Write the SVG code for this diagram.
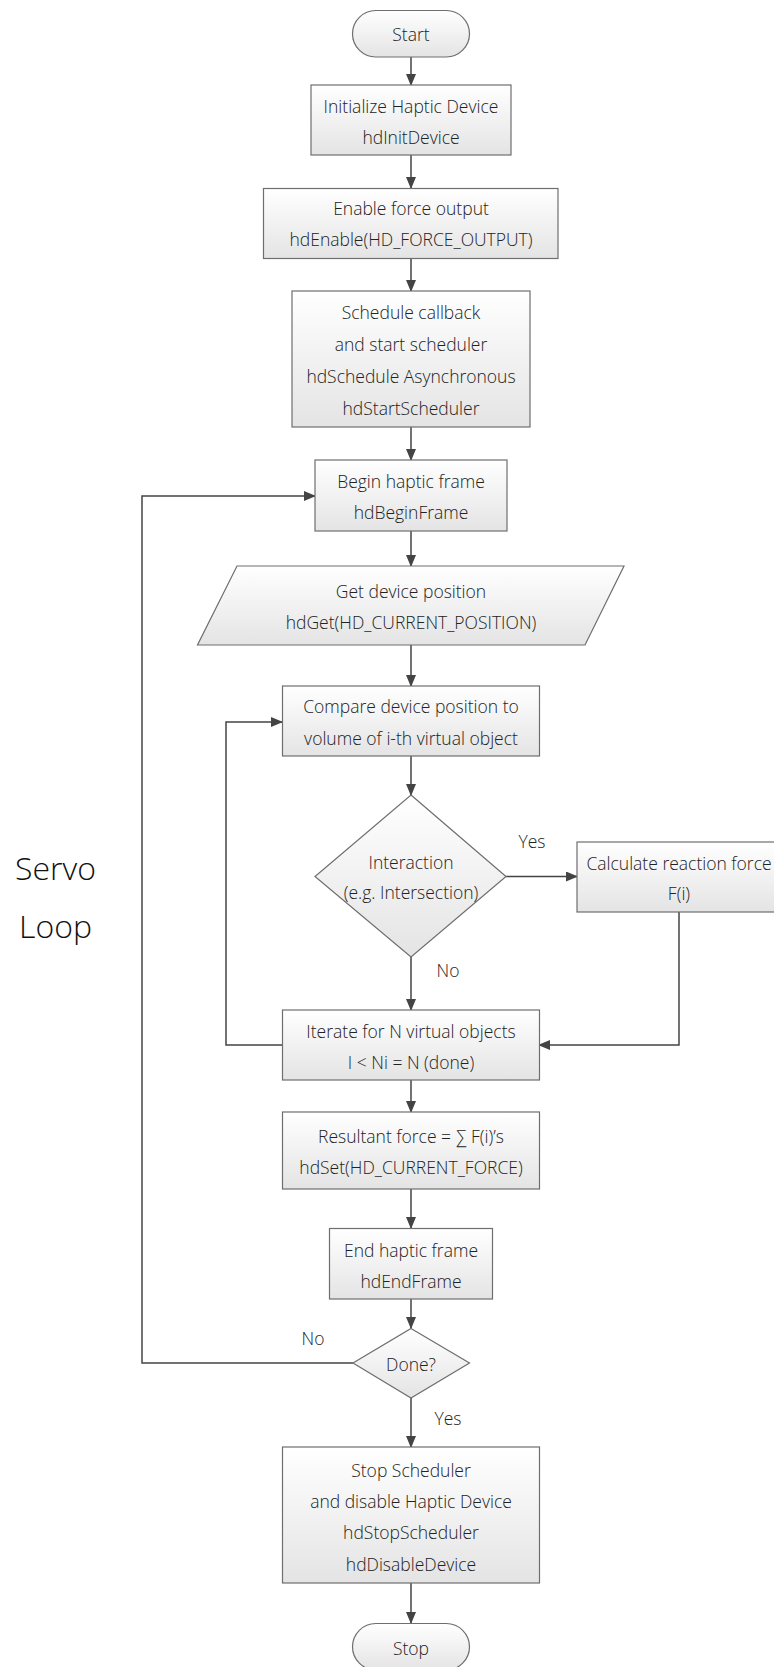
<svg xmlns="http://www.w3.org/2000/svg" width="774" height="1667" viewBox="0 0 774 1667">
<defs>
<linearGradient id="g" x1="0" y1="0" x2="0" y2="1">
<stop offset="0" stop-color="#ffffff"/>
<stop offset="1" stop-color="#e4e4e4"/>
</linearGradient>
<marker id="a" markerWidth="12" markerHeight="10" refX="11" refY="5" orient="auto" markerUnits="userSpaceOnUse">
<path d="M0,0 L12,5 L0,10 Z" fill="#444"/>
</marker>
<style>
.n{fill:url(#g);stroke:#6e6e6e;stroke-width:1.2}
.t{font-family:"Open Sans","Noto Sans",sans-serif;font-size:17.5px;font-weight:300;fill:#222;text-anchor:middle}
.s{font-family:"Open Sans","Noto Sans",sans-serif;font-size:32px;font-weight:300;fill:#111}
.c{fill:none;stroke:#444;stroke-width:1.5}
.ca{fill:none;stroke:#444;stroke-width:1.5;marker-end:url(#a)}
</style>
</defs>
<rect width="774" height="1667" fill="#fff"/>
<g id="servo-label">
<text class="s" x="15" y="880">Servo</text>
<text class="s" x="19" y="938">Loop</text>
</g>
<g id="connectors">
<line class="ca" x1="411" y1="57" x2="411" y2="85"/>
<line class="ca" x1="411" y1="155" x2="411" y2="188"/>
<line class="ca" x1="411" y1="258" x2="411" y2="291"/>
<line class="ca" x1="411" y1="427" x2="411" y2="460"/>
<line class="ca" x1="411" y1="531" x2="411" y2="566"/>
<line class="ca" x1="411" y1="645" x2="411" y2="686"/>
<line class="ca" x1="411" y1="756" x2="411" y2="795"/>
<line class="ca" x1="506" y1="876.5" x2="577" y2="876.5"/>
<line class="ca" x1="411" y1="957" x2="411" y2="1010"/>
<polyline class="ca" points="679,912 679,1045 539,1045"/>
<polyline class="ca" points="282,1045 226,1045 226,722 282,722"/>
<line class="ca" x1="411" y1="1080" x2="411" y2="1112"/>
<line class="ca" x1="411" y1="1189" x2="411" y2="1228"/>
<line class="ca" x1="411" y1="1299" x2="411" y2="1328"/>
<polyline class="ca" points="353,1363 142,1363 142,496 315,496"/>
<line class="ca" x1="411" y1="1398" x2="411" y2="1447"/>
<line class="ca" x1="411" y1="1583" x2="411" y2="1623"/>
<text class="t" x="532" y="848">Yes</text>
<text class="t" x="448" y="977">No</text>
<text class="t" x="313" y="1345">No</text>
<text class="t" x="448" y="1425">Yes</text>
</g>
<g id="start">
<rect class="n" x="352.5" y="10.5" width="117" height="46.5" rx="23.25"/>
<text class="t" x="411" y="41">Start</text>
</g>
<g id="init">
<rect class="n" x="311" y="85" width="200" height="70"/>
<text class="t" x="411" y="113">Initialize Haptic Device</text>
<text class="t" x="411" y="144">hdInitDevice</text>
</g>
<g id="enable">
<rect class="n" x="263.5" y="188.5" width="294.5" height="70"/>
<text class="t" x="411" y="215">Enable force output</text>
<text class="t" x="411" y="246">hdEnable(HD_FORCE_OUTPUT)</text>
</g>
<g id="schedule">
<rect class="n" x="292" y="291" width="238" height="136"/>
<text class="t" x="411" y="319">Schedule callback</text>
<text class="t" x="411" y="351">and start scheduler</text>
<text class="t" x="411" y="383">hdSchedule Asynchronous</text>
<text class="t" x="411" y="415">hdStartScheduler</text>
</g>
<g id="begin">
<rect class="n" x="315" y="460" width="192" height="71"/>
<text class="t" x="411" y="488">Begin haptic frame</text>
<text class="t" x="411" y="519">hdBeginFrame</text>
</g>
<g id="getpos">
<polygon class="n" points="237,566 624,566 585,645 197.5,645"/>
<text class="t" x="411" y="598">Get device position</text>
<text class="t" x="411" y="629">hdGet(HD_CURRENT_POSITION)</text>
</g>
<g id="compare">
<rect class="n" x="282.5" y="686" width="257" height="70"/>
<text class="t" x="411" y="713">Compare device position to</text>
<text class="t" x="411" y="745">volume of i-th virtual object</text>
</g>
<g id="interaction">
<polygon class="n" points="411,795 506,876.5 411,957 315,876.5"/>
<text class="t" x="411" y="869">Interaction</text>
<text class="t" x="411" y="899">(e.g. Intersection)</text>
</g>
<g id="calc">
<rect class="n" x="577" y="842" width="203" height="70"/>
<text class="t" x="679" y="870">Calculate reaction force</text>
<text class="t" x="679" y="900">F(i)</text>
</g>
<g id="iterate">
<rect class="n" x="282.5" y="1010" width="257" height="70"/>
<text class="t" x="411" y="1038">Iterate for N virtual objects</text>
<text class="t" x="411" y="1069">I &lt; Ni = N (done)</text>
</g>
<g id="resultant">
<rect class="n" x="282.5" y="1112" width="257" height="77"/>
<text class="t" x="411" y="1143">Resultant force = ∑ F(i)’s</text>
<text class="t" x="411" y="1174">hdSet(HD_CURRENT_FORCE)</text>
</g>
<g id="endframe">
<rect class="n" x="329.5" y="1228.5" width="163" height="70.5"/>
<text class="t" x="411" y="1257">End haptic frame</text>
<text class="t" x="411" y="1288">hdEndFrame</text>
</g>
<g id="done">
<polygon class="n" points="411,1328.5 469.5,1363 411,1398 353,1363"/>
<text class="t" x="411" y="1371">Done?</text>
</g>
<g id="stopsched">
<rect class="n" x="282.5" y="1447" width="257" height="136"/>
<text class="t" x="411" y="1477">Stop Scheduler</text>
<text class="t" x="411" y="1508">and disable Haptic Device</text>
<text class="t" x="411" y="1539">hdStopScheduler</text>
<text class="t" x="411" y="1571">hdDisableDevice</text>
</g>
<g id="stop">
<rect class="n" x="352.5" y="1623.5" width="117" height="46.5" rx="23.25"/>
<text class="t" x="411" y="1655">Stop</text>
</g>
</svg>
